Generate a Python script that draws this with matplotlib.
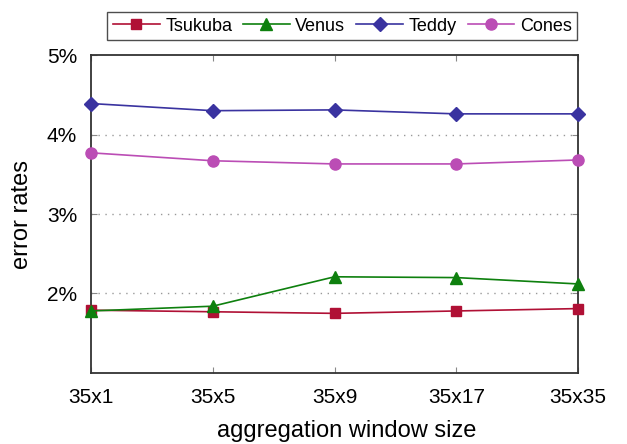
import matplotlib.pyplot as plt
from matplotlib.ticker import FuncFormatter

plt.rcParams.update({
    'font.family': ['Liberation Sans', 'DejaVu Sans'],
    'font.size': 14,
})

windows = ['35x1', '35x5', '35x9', '35x17', '35x35']
tsukuba = [1.79, 1.77, 1.75, 1.78, 1.81]
venus = [1.78, 1.84, 2.21, 2.20, 2.12]
teddy = [4.39, 4.30, 4.31, 4.26, 4.26]
cones = [3.77, 3.67, 3.63, 3.63, 3.68]

series = [
    ('Tsukuba', tsukuba, '#b01035', 's', 7),
    ('Venus', venus, '#0e800e', '^', 8),
    ('Teddy', teddy, '#3a33a0', 'D', 7),
    ('Cones', cones, '#bb4db5', 'o', 8),
]

fig = plt.figure(figsize=(6.27, 4.44), dpi=100)
ax = fig.add_axes([0.145, 0.160, 0.777, 0.716])

x = list(range(len(windows)))
for name, vals, color, marker, ms in series:
    ax.plot(x, vals, color=color, marker=marker, markersize=ms,
            linewidth=1.2, label=name, clip_on=False, zorder=3)

ax.set_xlim(0, len(windows) - 1)
ax.set_ylim(1, 5)
ax.set_xticks(x)
ax.set_xticklabels(windows)
ax.set_yticks([2, 3, 4, 5])
ax.yaxis.set_major_formatter(FuncFormatter(lambda v, p: f'{v:.0f}%'))

ax.tick_params(direction='in', top=True, right=True, length=4,
               width=0.8, color='#888888', labelsize=15)
ax.tick_params(axis='x', pad=11)
ax.tick_params(axis='y', pad=10)
for s in ax.spines.values():
    s.set_linewidth(1.3)
    s.set_color('#333333')

for yv in [2, 3, 4]:
    ax.axhline(yv, color='#999999', linestyle=(0, (1, 4)), linewidth=1.0, zorder=1)

ax.set_xlabel('aggregation window size', fontsize=17)
ax.xaxis.set_label_coords(0.526, -0.148)
ax.set_ylabel('error rates', fontsize=17, labelpad=10)

leg = ax.legend(loc='lower center', bbox_to_anchor=(0.516, 1.047), ncol=4,
                frameon=True, fancybox=False, edgecolor='#222222',
                handlelength=2.6, handletextpad=0.3, columnspacing=0.6,
                borderpad=0.3, borderaxespad=0, fontsize=13)
leg.get_frame().set_linewidth(1.0)

plt.savefig('out.png', dpi=100)
